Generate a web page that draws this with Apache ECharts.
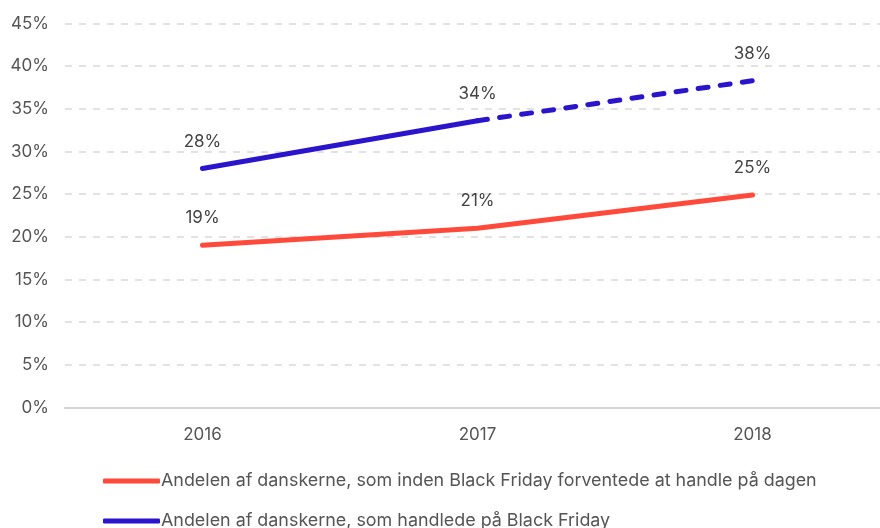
<!DOCTYPE html>
<html><head><meta charset="utf-8">
<script src="https://cdn.jsdelivr.net/npm/echarts@6/dist/echarts.min.js"></script>
<style>html,body{margin:0;padding:0;background:#fff}#c{width:880px;height:528px}</style>
</head><body><div id="c"></div>
<script>
const years = ['2016', '2017', '2018'];
const expectedShare = [19.0, 21.0, 24.9];
const boughtShare = [28.0, 33.6, 38.3];
const expectedName = 'Andelen af danskerne, som inden Black Friday forventede at handle på dagen';
const boughtName = 'Andelen af danskerne, som handlede på Black Friday';
const labelTexts = { expected: ['19%', '21%', '25%'], bought: ['28%', '34%', '38%'] };

const RED = '#FF4A3B', BLUE = '#2A14CC';
const FONT = 'Inter';
const lbl = { show: true, position: 'top', distance: 18, fontSize: 17, color: '#444', fontFamily: FONT };

// Build point list for indices [from..to]; others missing; labels on labelIdx
function pts(vals, texts, from, to, labelIdx) {
  return vals.map((v, i) => {
    if (i < from || i > to) return '-';
    if (labelIdx.includes(i)) return { value: v, label: Object.assign({}, lbl, { formatter: texts[i] }) };
    return { value: v };
  });
}

const chart = echarts.init(document.getElementById('c'));
chart.setOption({
  animation: false,
  textStyle: { fontFamily: FONT },
  grid: { left: 65, width: 825, top: 23.5, bottom: 120.5, containLabel: false, outerBoundsMode: 'none' },
  xAxis: {
    type: 'category', data: years, boundaryGap: true,
    axisLine: { lineStyle: { color: '#d4d4d4', width: 2 } },
    axisTick: { show: false },
    axisLabel: { color: '#555', fontSize: 17, margin: 19, fontFamily: FONT }
  },
  yAxis: {
    type: 'value', min: 0, max: 45, interval: 5,
    axisLine: { show: false }, axisTick: { show: false },
    axisLabel: { color: '#555', fontSize: 17, margin: 16, formatter: '{value}%', fontFamily: FONT },
    splitLine: { lineStyle: { color: '#d9d9d9', width: 1.5, type: [7, 7] } }
  },
  legend: {
    orient: 'vertical', left: 98, top: 467, height: 62, itemGap: 22,
    icon: 'roundRect', itemWidth: 57, itemHeight: 5,
    textStyle: { color: '#555', fontSize: 17.9, lineHeight: 17, fontFamily: FONT, padding: [0, 0, 0, -4] },
    data: [expectedName, boughtName]
  },
  series: [
    {
      name: expectedName, type: 'line', data: pts(expectedShare, labelTexts.expected, 0, 2, [0, 1, 2]),
      symbol: 'circle', symbolSize: 1, itemStyle: { color: RED },
      lineStyle: { color: RED, width: 5, cap: 'round' }
    },
    {
      name: boughtName, type: 'line', data: pts(boughtShare, labelTexts.bought, 0, 1, [0, 1]),
      symbol: 'circle', symbolSize: 1, itemStyle: { color: BLUE },
      lineStyle: { color: BLUE, width: 5, cap: 'round' }
    },
    {
      name: boughtName, type: 'line', data: pts(boughtShare, labelTexts.bought, 1, 2, [2]),
      symbol: 'circle', symbolSize: 1, itemStyle: { color: BLUE },
      lineStyle: { color: BLUE, width: 5, cap: 'round', type: [10, 12.3] }
    }
  ]
});
</script></body></html>
